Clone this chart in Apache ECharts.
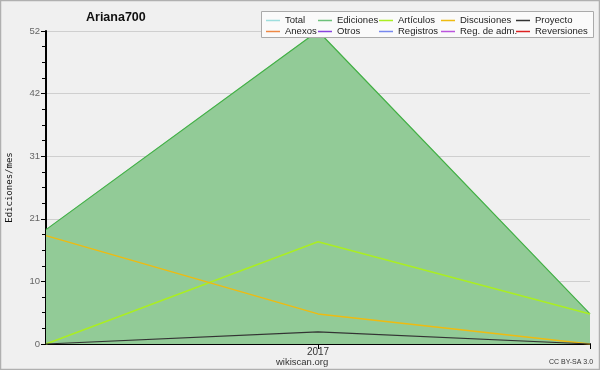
<!DOCTYPE html>
<html>
<head>
<meta charset="utf-8">
<script src="https://cdn.jsdelivr.net/npm/echarts@6/dist/echarts.min.js"></script>
<style>
  html, body { margin: 0; padding: 0; background: #f0f0f0; }
  #chart { width: 600px; height: 370px; }
</style>
</head>
<body>
<div id="chart"></div>
<script>
// Meses mostrados (solo el del medio lleva etiqueta)
var meses = ['2016-12', '2017-01', '2017-02'];
var etiquetasMes = ['', '2017', ''];

// Ediciones por mes
var total = [19, 52, 5];
var ediciones = [19, 52, 5];
var articulos = [0, 17, 5];
var discusiones = [18, 5, 0];
var proyecto = [0, 2, 0];
var anexos = [];
var otros = [];
var registros = [];
var regAdm = [];
var reversiones = [];

var yMax = 52;
var yPaso = 10.4;

var chart = echarts.init(document.getElementById('chart'));

function linea(nombre, datos, color, ancho, z) {
    return {
        name: nombre,
        type: 'line',
        data: datos,
        color: color,
        symbol: 'none',
        z: z,
        lineStyle: { color: color, width: ancho }
    };
}

var ediSerie = linea('Ediciones', ediciones, '#44b044', 1.2, 3);
ediSerie.areaStyle = { color: '#92cb97', opacity: 1 };
ediSerie.itemStyle = { color: '#6cc07a' };

var leyendaTexto = { fontFamily: 'Liberation Sans', fontSize: 9.5, color: '#222', lineHeight: 11 };
function columna(x, items) {
    return {
        orient: 'vertical',
        left: x,
        top: 15,
        z: 11,
        itemWidth: 14,
        itemHeight: 1.5,
        itemGap: 0,
        icon: 'rect',
        padding: 0,
        selectedMode: false,
        textStyle: leyendaTexto,
        data: items
    };
}

var option = {
    backgroundColor: '#f0f0f0',
    animation: false,
    title: {
        text: 'Ariana700',
        left: 86,
        top: 11,
        padding: 0,
        textStyle: { fontFamily: 'Liberation Sans', fontSize: 12.5, fontWeight: 'bold', color: '#111' }
    },
    legend: [
        columna(266, ['Total', 'Anexos']),
        columna(318, ['Ediciones', 'Otros']),
        columna(379, ['Artículos', 'Registros']),
        columna(441, ['Discusiones', 'Reg. de adm.']),
        columna(516, ['Proyecto', 'Reversiones'])
    ],
    grid: { left: 46, right: 10, top: 31, bottom: 26, outerBoundsMode: 'none', containLabel: false },
    xAxis: {
        type: 'category',
        data: meses,
        boundaryGap: false,
        axisLine: { lineStyle: { color: '#000', width: 2 } },
        axisTick: { interval: function (i) { return i > 0; }, length: 5, lineStyle: { color: '#000' } },
        axisLabel: {
            interval: 0,
            margin: 3,
            fontFamily: 'Liberation Sans', fontSize: 10, color: '#333',
            formatter: function (v, i) { return etiquetasMes[i]; }
        },
        splitLine: { show: false }
    },
    yAxis: {
        type: 'value',
        min: 0,
        max: yMax,
        interval: yPaso,
        name: 'Ediciones/mes',
        nameLocation: 'middle',
        nameGap: 32,
        nameTextStyle: { fontFamily: 'DejaVu Sans Mono', fontSize: 9, color: '#111' },
        axisLine: { show: true, lineStyle: { color: '#000', width: 2 } },
        axisTick: { show: true, length: 5, lineStyle: { color: '#000' } },
        minorTick: { show: true, splitNumber: 4, length: 4, lineStyle: { color: '#000' } },
        axisLabel: {
            margin: 6,
            fontFamily: 'Liberation Sans', fontSize: 9.5, color: '#666',
            formatter: function (v) { return Math.round(v); }
        },
        splitLine: { show: true, lineStyle: { color: '#cfcfcf', width: 1 } }
    },
    graphic: [
        {
            type: 'rect', z: 10,
            shape: { x: 261.5, y: 11.5, width: 332, height: 26 },
            style: { fill: '#fafafa', stroke: '#aaa', lineWidth: 1 }
        },
        {
            type: 'text', left: 276, top: 357, z: 10,
            style: { text: 'wikiscan.org', fontFamily: 'Liberation Sans', fontSize: 9.5, fill: '#333' }
        },
        {
            type: 'text', left: 549, top: 359, z: 10,
            style: { text: 'CC BY-SA 3.0', fontFamily: 'Liberation Sans', fontSize: 7, fill: '#333' }
        },
        {
            type: 'rect', z: 0,
            shape: { x: 0.5, y: 0.5, width: 599, height: 369 },
            style: { fill: 'none', stroke: '#b0b0b0', lineWidth: 1.5 }
        }
    ],
    series: [
        linea('Total', total, '#9edede', 1, 2),
        ediSerie,
        linea('Artículos', articulos, '#aaee22', 1.5, 4),
        linea('Discusiones', discusiones, '#eebb11', 1.5, 4),
        linea('Proyecto', proyecto, '#333333', 1.2, 4),
        linea('Anexos', anexos, '#ee8844', 1, 4),
        linea('Otros', otros, '#8844dd', 1, 4),
        linea('Registros', registros, '#7788ee', 1, 4),
        linea('Reg. de adm.', regAdm, '#bb55dd', 1, 4),
        linea('Reversiones', reversiones, '#dd2222', 1, 4)
    ]
};

option && chart.setOption(option);
window.addEventListener('resize', chart.resize);
</script>
</body>
</html>
